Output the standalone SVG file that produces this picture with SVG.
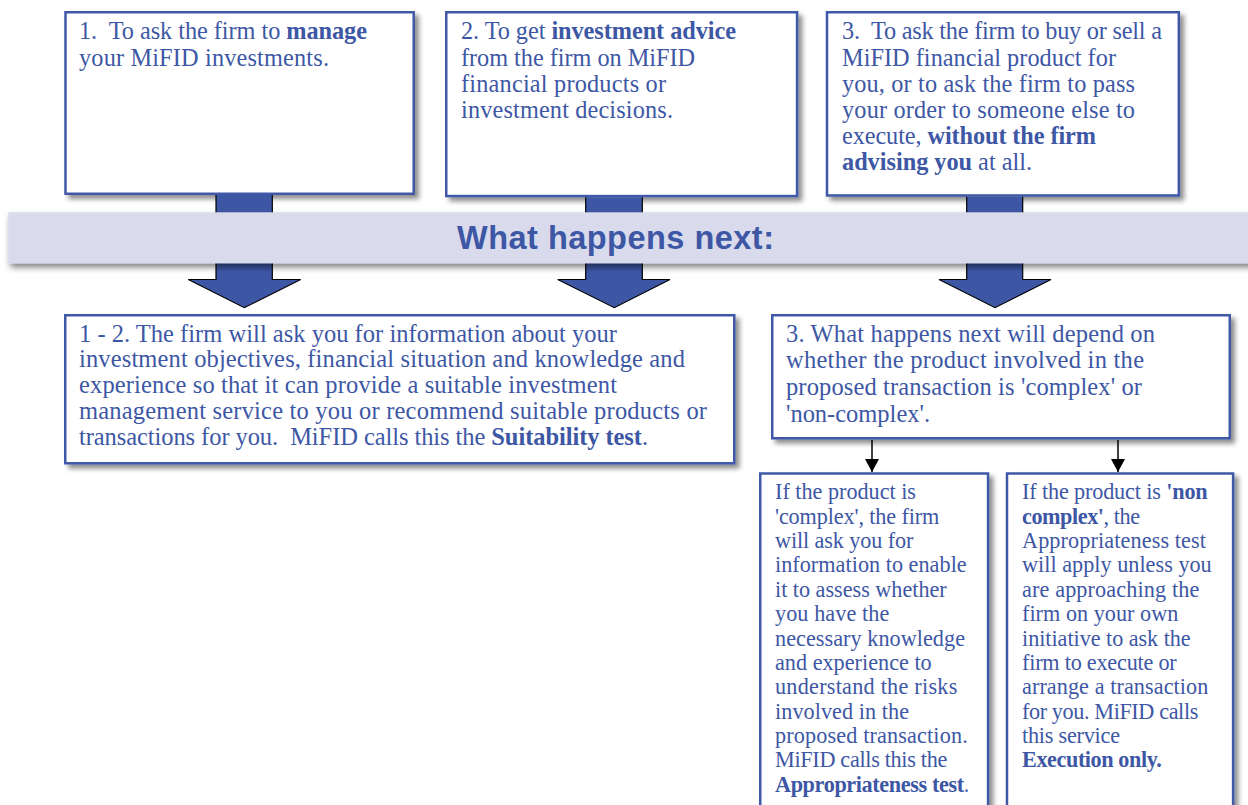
<svg xmlns="http://www.w3.org/2000/svg" width="1248" height="805" viewBox="0 0 1248 805">
<style>
.box{fill:#ffffff;stroke:#4059a8;stroke-width:2.5;filter:url(#sh)}
.t{font-family:"Liberation Serif","Times New Roman",serif;fill:#3d57a5}
.s24{font-size:24.3px}
.s23{font-size:24.5px}
.s21{font-size:22.2px}
.b{font-weight:bold}
.big{fill:#3d57a5;stroke:#000;stroke-width:1.2;stroke-linejoin:miter}
.thin{stroke:#000;stroke-width:1.5;fill:none;marker-end:url(#ah)}
</style>
<defs>
<filter id="sh" x="-10%" y="-10%" width="130%" height="130%">
<feDropShadow dx="4" dy="4" stdDeviation="2.5" flood-color="#000" flood-opacity="0.45"/>
</filter>
<filter id="bsh" x="-5%" y="-20%" width="110%" height="160%">
<feDropShadow dx="2" dy="4" stdDeviation="3" flood-color="#000" flood-opacity="0.5"/>
</filter>
<marker id="ah" viewBox="0 0 13 14" refX="13" refY="7" markerWidth="13" markerHeight="14" markerUnits="userSpaceOnUse" orient="auto">
<path d="M0,0 L13,7 L0,14 z" fill="#000"/>
</marker>
</defs>
<rect width="1248" height="805" fill="#ffffff"/>

<g id="box1">
<rect class="box" x="65.5" y="12.25" width="348.2" height="181.5"/>
<text class="t s24" x="79" y="39.3" textLength="288" xml:space="preserve">1.  To ask the firm to <tspan class="b">manage</tspan></text>
<text class="t s24" x="79" y="65.7" textLength="250">your MiFID investments.</text>
</g>

<g id="box2">
<rect class="box" x="446.25" y="12.25" width="350.8" height="183.8"/>
<text class="t s24" x="461" y="39.3" textLength="275">2. To get <tspan class="b">investment advice</tspan></text>
<text class="t s24" x="461" y="65.7" textLength="234">from the firm on MiFID</text>
<text class="t s24" x="461" y="91.7" textLength="205">financial products or</text>
<text class="t s24" x="461" y="117.7" textLength="212">investment decisions.</text>
</g>

<g id="box3">
<rect class="box" x="827" y="12.25" width="351.8" height="183.2"/>
<text class="t s24" x="842" y="39.3" textLength="320" xml:space="preserve">3.  To ask the firm to buy or sell a</text>
<text class="t s24" x="842" y="65.7" textLength="274">MiFID financial product for</text>
<text class="t s24" x="842" y="91.7" textLength="293">you, or to ask the firm to pass</text>
<text class="t s24" x="842" y="117.7" textLength="293">your order to someone else to</text>
<text class="t s24" x="842" y="144" textLength="254">execute, <tspan class="b">without the firm</tspan></text>
<text class="t s24" x="842" y="170" textLength="190"><tspan class="b">advising you</tspan> at all.</text>
</g>

<g id="connectors">
<path class="big" d="M216,195 V279.5 H188.3 L244.3,307.7 L300.7,279.5 H272.3 V195"/>
<path class="big" d="M585.7,197.3 V279.5 H557.7 L614.3,307.7 L670,279.5 H642.3 V197.3"/>
<path class="big" d="M966.7,196.7 V279.5 H939 L995,307.7 L1051,279.5 H1022.7 V196.7"/>
<path class="thin" d="M872,440 V472"/>
<path class="thin" d="M1118,440 V472"/>
</g>

<g id="banner">
<rect x="8.3" y="212.3" width="1245" height="51" fill="#d9dbed" filter="url(#bsh)"/>
<text x="457" y="249.3" textLength="317" font-family="'Liberation Sans',Arial,sans-serif" font-size="32.5" font-weight="bold" fill="#3d57a5">What happens next:</text>
</g>

<g id="box4">
<rect class="box" x="65.25" y="315.25" width="669" height="148"/>
<text class="t s23" x="79" y="341.7" textLength="538">1 - 2. The firm will ask you for information about your</text>
<text class="t s23" x="79" y="367.3" textLength="606">investment objectives, financial situation and knowledge and</text>
<text class="t s23" x="79" y="393.3" textLength="538">experience so that it can provide a suitable investment</text>
<text class="t s23" x="79" y="419.3" textLength="628">management service to you or recommend suitable products or</text>
<text class="t s23" x="79" y="445" textLength="569" xml:space="preserve">transactions for you.  MiFID calls this the <tspan class="b">Suitability test</tspan>.</text>
</g>

<g id="box5">
<rect class="box" x="772.25" y="315.25" width="457.5" height="123"/>
<text class="t s23" x="786" y="341.7" textLength="369">3. What happens next will depend on</text>
<text class="t s23" x="786" y="368.3" textLength="358">whether the product involved in the</text>
<text class="t s23" x="786" y="395" textLength="356">proposed transaction is 'complex' or</text>
<text class="t s23" x="786" y="421.7" textLength="144">'non-complex'.</text>
</g>

<g id="box6">
<rect class="box" x="760.25" y="473.5" width="227.8" height="400"/>
<text class="t s21" x="775" y="499.3" textLength="141">If the product is</text>
<text class="t s21" x="775" y="523.7" textLength="164.3">'complex', the firm</text>
<text class="t s21" x="775" y="548.1" textLength="138.3">will ask you for</text>
<text class="t s21" x="775" y="572.4" textLength="191.7">information to enable</text>
<text class="t s21" x="775" y="596.8" textLength="171.7">it to assess whether</text>
<text class="t s21" x="775" y="621.2" textLength="114.3">you have the</text>
<text class="t s21" x="775" y="645.5" textLength="190">necessary knowledge</text>
<text class="t s21" x="775" y="669.9" textLength="156.7">and experience to</text>
<text class="t s21" x="775" y="694.3" textLength="182.3">understand the risks</text>
<text class="t s21" x="775" y="718.6" textLength="134">involved in the</text>
<text class="t s21" x="775" y="743" textLength="192.7">proposed transaction.</text>
<text class="t s21" x="775" y="767.4" textLength="172.3">MiFID calls this the</text>
<text class="t s21" x="775" y="791.7" textLength="194.3"><tspan class="b">Appropriateness test</tspan>.</text>
</g>

<g id="box7">
<rect class="box" x="1007" y="473.5" width="226.1" height="400"/>
<text class="t s21" x="1022" y="499.3" textLength="185.7">If the product is <tspan class="b">'non</tspan></text>
<text class="t s21" x="1022" y="523.7" textLength="118"><tspan class="b">complex'</tspan>, the</text>
<text class="t s21" x="1022" y="548.1" textLength="184">Appropriateness test</text>
<text class="t s21" x="1022" y="572.4" textLength="189.7">will apply unless you</text>
<text class="t s21" x="1022" y="596.8" textLength="177.3">are approaching the</text>
<text class="t s21" x="1022" y="621.2" textLength="156.3">firm on your own</text>
<text class="t s21" x="1022" y="645.5" textLength="168.7">initiative to ask the</text>
<text class="t s21" x="1022" y="669.9" textLength="154.7">firm to execute or</text>
<text class="t s21" x="1022" y="694.3" textLength="186.3">arrange a transaction</text>
<text class="t s21" x="1022" y="718.6" textLength="176.3">for you. MiFID calls</text>
<text class="t s21" x="1022" y="743" textLength="98">this service</text>
<text class="t s21" x="1022" y="767.4" textLength="139.7"><tspan class="b">Execution only.</tspan></text>
</g>
</svg>
